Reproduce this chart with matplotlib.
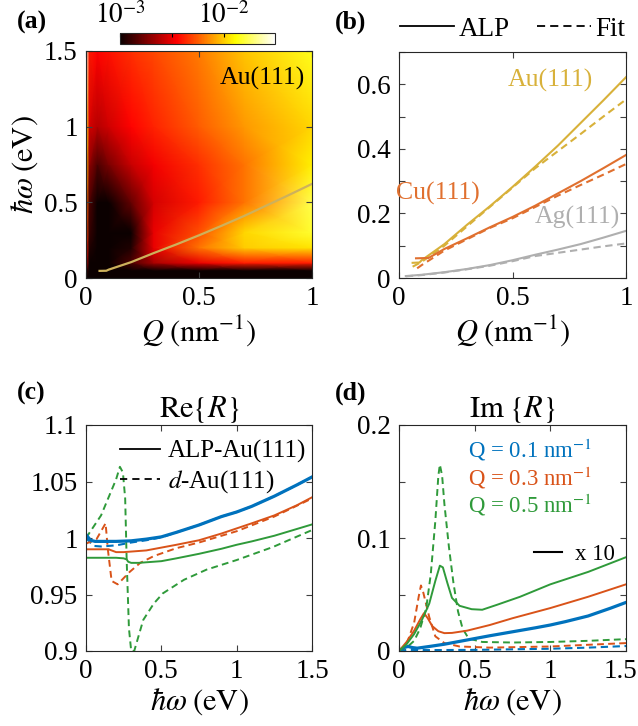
import matplotlib
matplotlib.use("Agg")
import matplotlib.pyplot as plt
import numpy as np
from matplotlib.colors import Normalize
from matplotlib.lines import Line2D
from matplotlib.ticker import FuncFormatter, FixedLocator
from matplotlib.transforms import ScaledTranslation

plt.rcParams['font.family'] = ['Liberation Serif', 'DejaVu Serif']
plt.rcParams['mathtext.fontset'] = 'stix'
plt.rcParams['axes.edgecolor'] = '#262626'

# ---------------- data ----------------
# (a) loss map, log10 values
map_q = [0, 0.015, 0.05, 0.1, 0.2, 0.3, 0.5, 0.7, 1.0]
map_w = [0, 0.05, 0.1, 0.2, 0.3, 0.5, 0.75, 1.0, 1.5]
map_log = [
    [-3.6, -3.6, -3.6, -3.6, -3.6, -3.6, -3.6, -3.6, -3.6],    # w=0
    [-2.9, -3.3, -3.4, -3.4, -3.4, -3.4, -3.3, -3.3, -3.3],    # w=0.05
    [-2.6, -3.0, -3.2, -3.2, -2.85, -2.65, -2.5, -2.4, -2.4],  # w=0.1
    [-2.4, -2.95, -3.3, -3.3, -2.95, -2.5, -2.2, -2.0, -1.95], # w=0.2
    [-2.3, -2.9, -3.3, -3.3, -3.0, -2.5, -2.28, -1.98, -1.82], # w=0.3
    [-2.2, -2.85, -3.2, -3.15, -2.8, -2.55, -2.4, -2.2, -1.78],# w=0.5
    [-2.0, -2.7, -2.85, -2.75, -2.58, -2.48, -2.35, -2.2, -1.92],  # w=0.75
    [-1.85, -2.55, -2.62, -2.56, -2.45, -2.38, -2.25, -2.12, -1.98],  # w=1.0
    [-1.55, -2.4, -2.45, -2.42, -2.35, -2.3, -2.18, -2.02, -1.85],  # w=1.5
]
cbar_min, cbar_max = -3.0, -1.51

# (b) plasmon dispersion
au_q = [0.06, 0.09, 0.1, 0.2, 0.3, 0.4, 0.5, 0.6, 0.7, 0.8, 0.9, 1.0]
au_alp = [0.047, 0.048, 0.055, 0.105, 0.165, 0.222, 0.282, 0.345, 0.41, 0.48, 0.55, 0.622]
au_fit_q = [0.06, 0.1, 0.2, 0.3, 0.4, 0.5, 0.6, 0.7, 0.8, 0.9, 1.0]
au_fit = [0.035, 0.05, 0.1, 0.16, 0.22, 0.28, 0.34, 0.393, 0.446, 0.5, 0.553]
cu_q = [0.075, 0.13, 0.2, 0.3, 0.4, 0.5, 0.6, 0.7, 0.8, 0.9, 1.0]
cu_alp = [0.061, 0.062, 0.09, 0.123, 0.157, 0.189, 0.224, 0.262, 0.3, 0.34, 0.381]
cu_fit_q = [0.08, 0.1, 0.2, 0.3, 0.4, 0.5, 0.6, 0.7, 0.8, 0.9, 1.0]
cu_fit = [0.03, 0.04, 0.085, 0.12, 0.155, 0.185, 0.22, 0.255, 0.288, 0.32, 0.353]
ag_q = [0.03, 0.1, 0.2, 0.3, 0.4, 0.5, 0.6, 0.7, 0.8, 0.9, 1.0]
ag_alp = [0.006, 0.01, 0.018, 0.028, 0.04, 0.055, 0.072, 0.088, 0.105, 0.125, 0.146]
ag_fit = [0.005, 0.009, 0.017, 0.027, 0.038, 0.052, 0.068, 0.078, 0.088, 0.098, 0.107]

# (c) Re{R}
re_blue_w = [0, 0.03, 0.06, 0.1, 0.2, 0.3, 0.4, 0.5, 0.6, 0.75, 0.9, 1.0, 1.1, 1.25, 1.4, 1.5]
re_blue = [1.003, 0.998, 0.997, 0.997, 0.997, 0.9975, 0.999, 1.001, 1.005, 1.0115, 1.019, 1.023,
           1.028, 1.037, 1.047, 1.054]
re_blue_d_w = [0, 0.05, 0.1, 0.2, 0.3, 0.4, 0.5, 0.6, 0.75, 0.9, 1.0, 1.1, 1.25, 1.4, 1.5]
re_blue_d = [1.0, 0.993, 0.9925, 0.9935, 0.996, 0.998, 1.0005, 1.005, 1.0115, 1.019, 1.023,
             1.028, 1.037, 1.047, 1.054]
re_orange_w = [0, 0.15, 0.18, 0.2, 0.25, 0.3, 0.4, 0.5, 0.6, 0.75, 0.9, 1.0, 1.1, 1.25, 1.4, 1.5]
re_orange = [0.99, 0.99, 0.9885, 0.9875, 0.9875, 0.988, 0.989, 0.9915, 0.994, 0.998, 1.004,
             1.0085, 1.013, 1.02, 1.029, 1.036]
re_orange_d_w = [0, 0.07, 0.13, 0.145, 0.17, 0.21, 0.29, 0.36, 0.45, 0.6, 0.75, 1.0, 1.25, 1.5]
re_orange_d = [0.995, 0.999, 1.013, 0.99, 0.962, 0.959, 0.97, 0.978, 0.984, 0.991, 0.996,
               1.006, 1.019, 1.035]
re_green_w = [0, 0.2, 0.25, 0.27, 0.28, 0.3, 0.35, 0.45, 0.5, 0.6, 0.75, 0.9, 1.0, 1.1, 1.25, 1.4, 1.5]
re_green = [0.9825, 0.9825, 0.982, 0.981, 0.979, 0.978, 0.978, 0.979, 0.9795, 0.982, 0.986,
            0.9905, 0.994, 0.997, 1.002, 1.008, 1.012]
re_green_d_w = [0, 0.1, 0.2, 0.225, 0.245, 0.26, 0.27, 0.285, 0.3, 0.32, 0.38, 0.45, 0.51, 0.65,
                0.8, 1.0, 1.24, 1.5]
re_green_d = [1.0, 1.02, 1.052, 1.063, 1.058, 1.035, 0.98, 0.92, 0.9, 0.9, 0.9275, 0.942, 0.951,
              0.963, 0.972, 0.9805, 0.992, 1.007]

# (d) Im{R}
im_blue_w = [0, 0.03, 0.06, 0.09, 0.12, 0.2, 0.3, 0.4, 0.5, 0.6, 0.75, 0.9, 1.0, 1.1, 1.25, 1.4, 1.5]
im_blue = [0, 0.003, 0.004, 0.003, 0.0025, 0.004, 0.006, 0.0085, 0.011, 0.0135, 0.017, 0.0205,
           0.023, 0.026, 0.031, 0.038, 0.043]
im_blue_d_w = [0, 0.05, 0.2, 0.5, 0.75, 1.0, 1.25, 1.5]
im_blue_d = [0, 0.001, 0.0008, 0.001, 0.0015, 0.002, 0.003, 0.0044]
im_orange_w = [0, 0.05, 0.1, 0.14, 0.165, 0.19, 0.22, 0.26, 0.3, 0.35, 0.45, 0.6, 0.75, 1.0, 1.25, 1.5]
im_orange = [0, 0.008, 0.018, 0.028, 0.0335, 0.029, 0.022, 0.0175, 0.0158, 0.016, 0.018, 0.023,
             0.029, 0.038, 0.048, 0.059]
im_orange_d_w = [0, 0.05, 0.1, 0.13, 0.145, 0.16, 0.2, 0.24, 0.3, 0.4, 0.6, 0.8, 1.0, 1.25, 1.5]
im_orange_d = [0, 0.006, 0.025, 0.048, 0.058, 0.052, 0.03, 0.013, 0.007, 0.004, 0.003, 0.0035,
               0.004, 0.0055, 0.007]
im_green_w = [0, 0.05, 0.1, 0.15, 0.2, 0.24, 0.27, 0.29, 0.32, 0.35, 0.4, 0.48, 0.55, 0.65, 0.8,
              1.0, 1.25, 1.5]
im_green = [0, 0.006, 0.015, 0.027, 0.042, 0.062, 0.0755, 0.074, 0.06, 0.047, 0.04, 0.037, 0.0365,
            0.041, 0.048, 0.059, 0.07, 0.083]
im_green_d_w = [0, 0.05, 0.1, 0.14, 0.18, 0.21, 0.24, 0.26, 0.27, 0.285, 0.3, 0.33, 0.36, 0.39,
                0.42, 0.46, 0.55, 0.75, 1.0, 1.25, 1.5]
im_green_d = [0, 0.003, 0.009, 0.02, 0.038, 0.068, 0.115, 0.155, 0.165, 0.155, 0.13, 0.092, 0.06,
              0.035, 0.02, 0.011, 0.008, 0.0075, 0.008, 0.009, 0.0105]

q_labels = ['Q = 0.1 nm$^{-1}$', 'Q = 0.3 nm$^{-1}$', 'Q = 0.5 nm$^{-1}$']

# ---------------- style ----------------
c_au, c_cu, c_ag = '#D8B13A', '#E0702F', '#AFAFAF'
c_blue, c_orange, c_green = '#0072BD', '#D95319', '#2F9A3A'
dash = (0, (3.5, 2.2))
fs = 19.5
fs_lab = 22


def fmt(v, pos):
    return '%g' % v


def style_axes(ax):
    ax.tick_params(which='both', direction='in', top=True, right=True, length=4.5,
                   width=0.8, labelsize=fs, color='#404040', pad=6)
    ax.xaxis.set_major_formatter(FuncFormatter(fmt))
    ax.yaxis.set_major_formatter(FuncFormatter(fmt))


W, H = 638, 726
fig = plt.figure(figsize=(W / 100, H / 100), dpi=100)


def box(x0, y0, x1, y1):
    return [x0 / W, 1 - y1 / H, (x1 - x0) / W, (y1 - y0) / H]


ax_a = fig.add_axes(box(86, 51, 312, 278))
ax_b = fig.add_axes(box(399, 52, 626, 278))
ax_c = fig.add_axes(box(86, 425, 312, 651))
ax_d = fig.add_axes(box(399, 425, 626, 651))
cax = fig.add_axes(box(120, 33, 275, 44))

# ---- (a)
mesh = ax_a.pcolormesh(map_q, map_w, np.array(map_log), shading='gouraud', cmap='hot',
                       norm=Normalize(cbar_min, cbar_max))
ax_a.plot(au_q, au_alp, color='#CDB15C', lw=1.6)
ax_a.set_xlim(0, 1)
ax_a.set_ylim(0, 1.5)
ax_a.set_xticks([0, 0.5, 1])
ax_a.set_yticks([0, 0.5, 1, 1.5])
style_axes(ax_a)
ax_a.text(0.97, 1.32, 'Au(111)', fontsize=18.5, ha='right', va='center')
ax_a.set_xlabel(r'$Q\;(\mathrm{nm}^{-1})$', fontsize=fs_lab, labelpad=1)
ax_a.set_ylabel(r'$\hbar\omega\;(\mathrm{eV})$', fontsize=fs_lab, labelpad=3)

cb = fig.colorbar(mesh, cax=cax, orientation='horizontal')
cb.set_ticks([-3, -2.5, -2])
cb.set_ticklabels(['$10^{-3}$', '', '$10^{-2}$'])
cax.xaxis.set_ticks_position('top')
cax.tick_params(direction='in', length=3, labelsize=fs, pad=3)
cb.outline.set_linewidth(0.8)

# ---- (b)
ax_b.plot(au_q, au_alp, color=c_au, lw=1.5)
ax_b.plot(au_fit_q, au_fit, color=c_au, lw=1.5, ls=dash)
ax_b.plot(cu_q, cu_alp, color=c_cu, lw=1.5)
ax_b.plot(cu_fit_q, cu_fit, color=c_cu, lw=1.5, ls=dash)
ax_b.plot(ag_q, ag_alp, color=c_ag, lw=1.5)
ax_b.plot(ag_q, ag_fit, color=c_ag, lw=1.5, ls=dash)
ax_b.set_xlim(0, 1)
ax_b.set_ylim(0, 0.7)
ax_b.set_xticks([0, 0.5, 1])
ax_b.set_yticks([0, 0.2, 0.4, 0.6])
ax_b.yaxis.set_minor_locator(FixedLocator([0.1, 0.3, 0.5, 0.7]))
style_axes(ax_b)
ax_b.text(0.665, 0.613, 'Au(111)', color=c_au, fontsize=18.5, ha='center', va='center')
ax_b.text(0.17, 0.263, 'Cu(111)', color=c_cu, fontsize=18.5, ha='center', va='center')
ax_b.text(0.784, 0.189, 'Ag(111)', color=c_ag, fontsize=18.5, ha='center', va='center')
ax_b.set_xlabel(r'$Q\;(\mathrm{nm}^{-1})$', fontsize=fs_lab, labelpad=1)
ax_b.legend([Line2D([], [], color='k', lw=1.3),
             Line2D([], [], color='k', lw=1.3, ls=(0, (4.5, 2.8)))],
            ['ALP', 'Fit'], loc='center', bbox_to_anchor=(0.5, 1.1), ncol=2, frameon=False,
            fontsize=fs, handlelength=2.0, handletextpad=0.15, columnspacing=1.0,
            borderaxespad=0)

# ---- (c)
ax_c.plot(re_blue_d_w, re_blue_d, color=c_blue, lw=1.5, ls=dash)
ax_c.plot(re_orange_d_w, re_orange_d, color=c_orange, lw=1.4, ls=dash)
ax_c.plot(re_green_d_w, re_green_d, color=c_green, lw=1.4, ls=dash)
ax_c.plot(re_blue_w, re_blue, color=c_blue, lw=2.3)
ax_c.plot(re_orange_w, re_orange, color=c_orange, lw=1.4)
ax_c.plot(re_green_w, re_green, color=c_green, lw=1.4)
ax_c.set_xlim(0, 1.5)
ax_c.set_ylim(0.9, 1.1)
ax_c.set_xticks([0, 0.5, 1, 1.5])
ax_c.set_yticks([0.9, 0.95, 1, 1.05, 1.1])
style_axes(ax_c)
ax_c.set_title(r'$\mathrm{Re}\{R\}$', fontsize=fs_lab, pad=4)
ax_c.set_xlabel(r'$\hbar\omega\;(\mathrm{eV})$', fontsize=fs_lab, labelpad=1)
ax_c.legend([Line2D([], [], color='k', lw=1.3),
             Line2D([], [], color='k', lw=1.3, ls=(0, (4, 2.8)))],
            ['ALP-Au(111)', '$d$-Au(111)'], loc='upper right', bbox_to_anchor=(1.04, 1.0),
            frameon=False, fontsize=18, handlelength=1.6, handletextpad=0.3,
            labelspacing=0.2, borderaxespad=0.2)

# ---- (d)
ax_d.plot(im_blue_d_w, im_blue_d, color=c_blue, lw=1.5, ls=dash)
ax_d.plot(im_orange_d_w, im_orange_d, color=c_orange, lw=1.4, ls=dash)
ax_d.plot(im_green_d_w, im_green_d, color=c_green, lw=1.4, ls=dash)
ax_d.plot(im_blue_w, im_blue, color=c_blue, lw=2.3)
ax_d.plot(im_orange_w, im_orange, color=c_orange, lw=1.4)
ax_d.plot(im_green_w, im_green, color=c_green, lw=1.4)
ax_d.set_xlim(0, 1.5)
ax_d.set_ylim(0, 0.2)
ax_d.set_xticks([0, 0.5, 1, 1.5])
ax_d.set_yticks([0, 0.1, 0.2])
ax_d.yaxis.set_minor_locator(FixedLocator([0.05, 0.15]))
style_axes(ax_d)
ax_d.set_title(r'$\mathrm{Im}\;\{R\}$', fontsize=fs_lab, pad=4)
ax_d.set_xlabel(r'$\hbar\omega\;(\mathrm{eV})$', fontsize=fs_lab, labelpad=1)
for lab, col, yy in zip(q_labels, [c_blue, c_orange, c_green], [0.178, 0.153, 0.129]):
    ax_d.text(0.456, yy, lab, color=col, fontsize=16.5, ha='left', va='center')
ax_d.legend([Line2D([], [], color='k', lw=1.5)], ['x 10'], loc='center left',
            bbox_to_anchor=(0.555, 0.425), frameon=False, fontsize=16.5,
            handlelength=1.2, handletextpad=0.6, borderaxespad=0)

# panel labels
for lab, x, y in [('(a)', 17, 22), ('(b)', 335, 22), ('(c)', 17, 393), ('(d)', 335, 393)]:
    fig.text(x / W, 1 - y / H, lab, fontsize=18.5, fontweight='bold', ha='left', va='center')

# keep the last tick label of (d) inside the figure
fig.canvas.draw()
last = ax_d.get_xticklabels()[-1]
last.set_transform(last.get_transform() + ScaledTranslation(-0.06, 0, fig.dpi_scale_trans))

fig.savefig('out.png', dpi=100)
